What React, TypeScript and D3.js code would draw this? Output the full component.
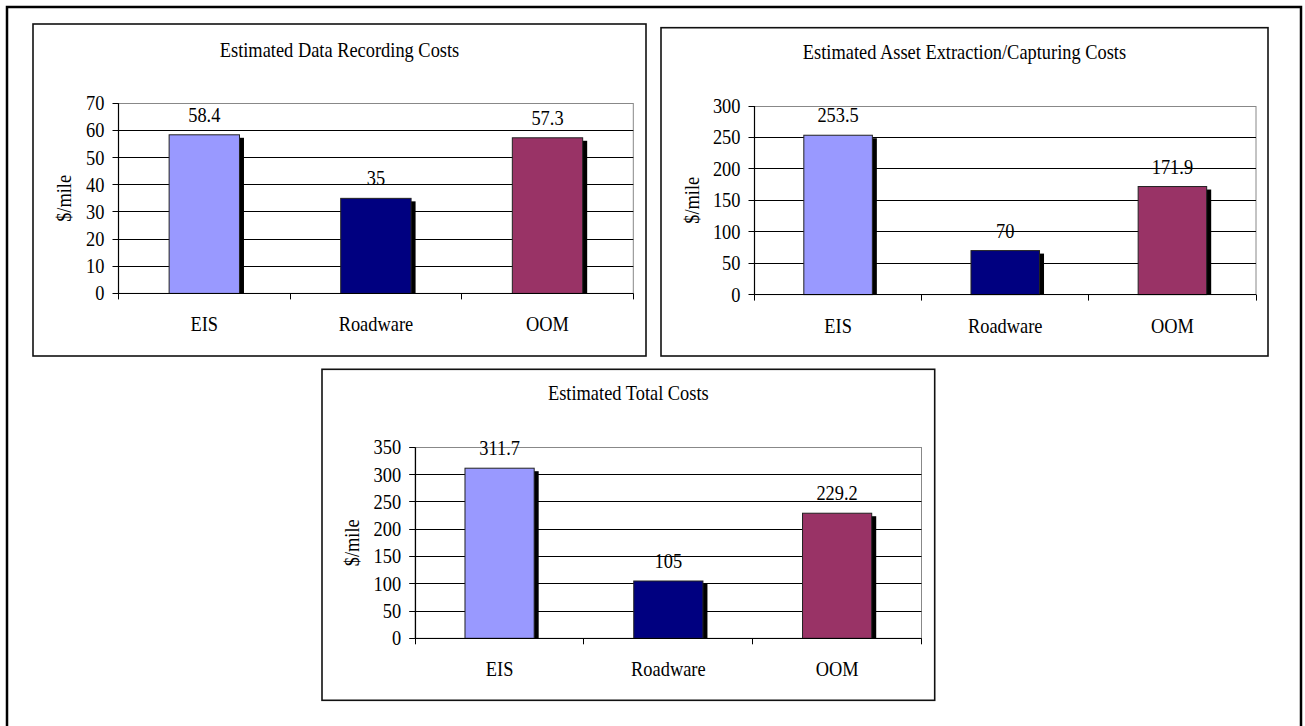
import React from "react";
import * as d3 from "d3";

// chart values
const categories = ["EIS", "Roadware", "OOM"];
const recordingCosts = [58.4, 35, 57.3];
const extractionCosts = [253.5, 70, 171.9];
const totalCosts = [311.7, 105, 229.2];
const recordingTicks = [0, 10, 20, 30, 40, 50, 60, 70];
const extractionTicks = [0, 50, 100, 150, 200, 250, 300];
const totalTicks = [0, 50, 100, 150, 200, 250, 300, 350];
const barColors = ["#9999FF", "#000080", "#993366"];
const yLabel = "$/mile";

const FONT = "'Liberation Serif', 'Times New Roman', serif";

interface Box { x: number; y: number; w: number; h: number; }
interface Plot { left: number; right: number; top: number; bottom: number; }

interface PanelProps {
  title: string;
  values: number[];
  ticks: number[];
  box: Box;
  plot: Plot;
  titleY: number;
  yLabelX: number;
}

// pixel snap for 1px lines
const snap = (v: number) => Math.round(v - 0.5) + 0.5;

// the scanned text is a bit narrow and tall, so squeeze it horizontally
const Label: React.FC<{ x: number; y: number; anchor?: string; dy?: string; rotate?: boolean; children: React.ReactNode }> = ({
  x, y, anchor = "middle", dy, rotate, children,
}) => (
  <g transform={`translate(${x},${y})${rotate ? " rotate(-90)" : ""} scale(0.92,1)`}>
    <text textAnchor={anchor} dy={dy} fontFamily={FONT} fontSize={20} fill="#000">{children}</text>
  </g>
);

const BarPanel: React.FC<PanelProps> = ({ title, values, ticks, box, plot, titleY, yLabelX }) => {
  const x = d3.scaleBand<string>().domain(categories).range([plot.left, plot.right]);
  const y = d3.scaleLinear().domain([0, d3.max(ticks) as number]).range([plot.bottom, plot.top]);
  const bw = x.bandwidth();
  const barW = bw * 0.41;
  const base = y(0);
  const shadowDx = 4.5;
  const shadowDy = 3;

  return (
    <g>
      <rect x={box.x} y={box.y} width={box.w} height={box.h} fill="#fff" stroke="#111" strokeWidth={1.6} />
      <Label x={box.x + box.w / 2} y={titleY}>{title}</Label>

      {/* plot area border */}
      <rect x={plot.left} y={snap(plot.top)} width={plot.right - plot.left} height={base - snap(plot.top)} fill="none" stroke="#888" strokeWidth={1} />

      {/* gridlines */}
      {ticks.filter((t) => t > 0 && t < (d3.max(ticks) as number)).map((t) => (
        <line key={t} x1={plot.left} x2={plot.right} y1={snap(y(t))} y2={snap(y(t))} stroke="#000" strokeWidth={1} />
      ))}

      {/* bars with drop shadow */}
      {categories.map((c, i) => {
        const bx = (x(c) as number) + (bw - barW) / 2;
        const by = y(values[i]);
        return (
          <g key={c}>
            <rect x={bx + shadowDx} y={by + shadowDy} width={barW} height={Math.max(0, base - by - shadowDy)} fill="#000" />
            <rect x={bx} y={by} width={barW} height={base - by} fill={barColors[i]} stroke="#222" strokeWidth={1} />
            <Label x={bx + barW / 2} y={by - 13}>{String(values[i])}</Label>
            <Label x={(x(c) as number) + bw / 2} y={base + 38}>{c}</Label>
          </g>
        );
      })}

      {/* y axis */}
      <line x1={snap(plot.left)} x2={snap(plot.left)} y1={plot.top} y2={base} stroke="#000" strokeWidth={1.2} />
      {ticks.map((t) => (
        <g key={t}>
          <line x1={plot.left - 6} x2={plot.left} y1={snap(y(t))} y2={snap(y(t))} stroke="#000" strokeWidth={1} />
          <Label x={plot.left - 14} y={y(t)} anchor="end" dy="0.35em">{t}</Label>
        </g>
      ))}

      {/* x axis */}
      <line x1={plot.left} x2={plot.right} y1={snap(base)} y2={snap(base)} stroke="#000" strokeWidth={1.2} />
      {[...categories.map((c) => x(c) as number), plot.right].map((bx, i) => (
        <line key={i} x1={snap(bx)} x2={snap(bx)} y1={base} y2={base + 6} stroke="#000" strokeWidth={1} />
      ))}

      <Label x={yLabelX} y={(plot.top + base) / 2} dy="0.35em" rotate>{yLabel}</Label>
    </g>
  );
};

export default function App() {
  return (
    <div style={{ position: "absolute", left: 0, top: 0 }}>
      <svg width={1305} height={726} style={{ display: "block", background: "#fff" }}>
        <rect x={7} y={7} width={1294} height={800} fill="#fff" stroke="#000" strokeWidth={2.5} />
        <BarPanel
          title="Estimated Data Recording Costs"
          values={recordingCosts}
          ticks={recordingTicks}
          box={{ x: 33, y: 24, w: 613, h: 332 }}
          plot={{ left: 118.5, right: 633.3, top: 103.3, bottom: 293.4 }}
          titleY={57}
          yLabelX={64}
        />
        <BarPanel
          title="Estimated Asset Extraction/Capturing Costs"
          values={extractionCosts}
          ticks={extractionTicks}
          box={{ x: 661, y: 27.7, w: 607, h: 328.3 }}
          plot={{ left: 754.5, right: 1256, top: 106, bottom: 294.6 }}
          titleY={59}
          yLabelX={692}
        />
        <BarPanel
          title="Estimated Total Costs"
          values={totalCosts}
          ticks={totalTicks}
          box={{ x: 322, y: 369.3, w: 612.7, h: 331 }}
          plot={{ left: 415.2, right: 921.5, top: 447.3, bottom: 638.3 }}
          titleY={400}
          yLabelX={352}
        />
      </svg>
    </div>
  );
}
